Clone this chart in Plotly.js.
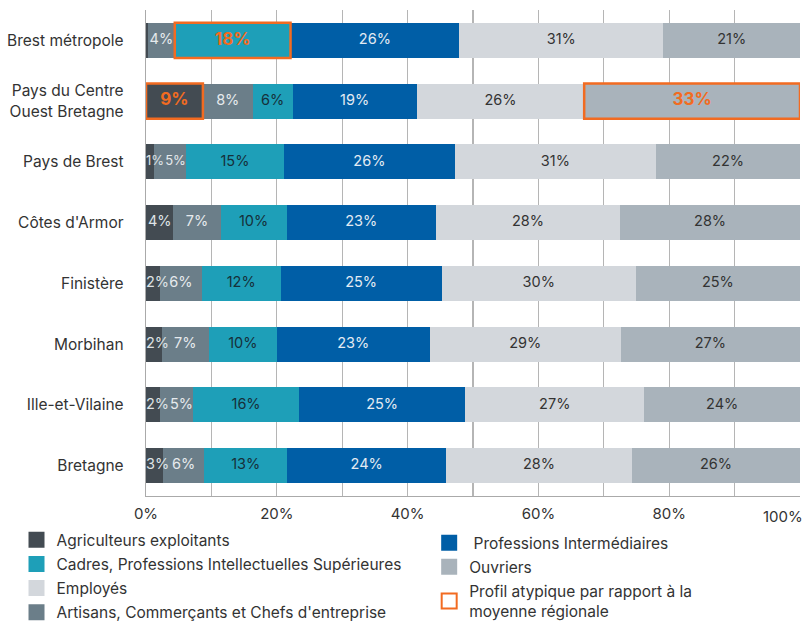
<!DOCTYPE html>
<html><head><meta charset="utf-8">
<script src="https://cdn.plot.ly/plotly-3.0.1.min.js"></script>
<style>html,body{margin:0;padding:0;background:#fff}</style>
</head><body><div id="chart" style="width:806px;height:621px"></div>
<script>
const categories = ["Brest métropole", "Pays du Centre<br>Ouest Bretagne", "Pays de Brest", "Côtes d'Armor", "Finistère", "Morbihan", "Ille-et-Vilaine", "Bretagne"];
const seriesNames = ["Agriculteurs exploitants", "Artisans, Commerçants et Chefs d'entreprise", "Cadres, Professions Intellectuelles Supérieures", " Professions Intermédiaires", "Employés", "Ouvriers"];
const agriculteurs = [0.3, 8.7, 1.2, 4.2, 2.2, 2.4, 2.1, 2.6];
const artisans     = [4.1, 7.6, 4.9, 7.2, 6.3, 7.2, 5.1, 6.3];
const cadres       = [17.7, 6.1, 15.0, 10.1, 12.1, 10.4, 16.2, 12.7];
const profInter    = [25.8, 19.0, 26.1, 22.8, 24.6, 23.4, 25.4, 24.3];
const employes     = [31.2, 25.6, 30.8, 28.2, 29.7, 29.2, 27.4, 28.4];
const ouvriers     = [20.9, 33.0, 22.0, 27.5, 25.1, 27.4, 23.8, 25.7];
// atypical profiles: [category index, series index]
const highlights = [[0, 2], [1, 0], [1, 5]];
const highlightLabel = "Profil atypique par rapport à la<br>moyenne régionale";
const xTickValues = [0, 20, 40, 60, 80];
const xTickLabels = ["0%", "20%", "40%", "60%", "80%"];
const lastTickLabel = "100%";

const seriesValues = [agriculteurs, artisans, cadres, profInter, employes, ouvriers];
const colors = ["#434b52", "#6b7e89", "#1e9fb8", "#005ea6", "#d3d7dc", "#a9b3bb"];
const textColors = ["#dfe3e6", "#e6eaed", "#16303a", "#e3ebf3", "#333333", "#333333"];
const orange = "#f26b21";
const FONT = "Inter, sans-serif";
const FS_AXIS = 15.5;
const FS_BAR = 14.5;
const FS_TIGHT = 13;
const bargap = 0.42;
// legend placement: legend (left column) / legend2 (right column), with rank
const legendOf = ["legend", "legend", "legend", "legend2", "legend", "legend2"];
const rankOf = [1, 4, 2, 1, 3, 2];

const isHi = (c, s) => highlights.some(h => h[0] === c && h[1] === s);
const labelled = v => v >= 0.5;
const narrow = v => labelled(v) && v < 3;

// cumulative starts
const starts = seriesValues.map((vals, s) => vals.map((v, c) => {
  let acc = 0; for (let k = 0; k < s; k++) acc += seriesValues[k][c]; return acc;
}));

const traces = [];
seriesValues.forEach((vals, s) => {
  traces.push({
    type: "bar", orientation: "h", name: seriesNames[s],
    x: vals, y: categories,
    marker: {color: colors[s], line: {width: 0}},
    hoverinfo: "skip", showlegend: false
  });
});
// labels drawn above all bars; narrow segments start their label at the segment start,
// and a small segment that follows a narrow one ends its label at its own end
const tight = (c, s) => {
  const v = seriesValues[s][c];
  if (narrow(v) && s + 1 < seriesValues.length) return v + seriesValues[s + 1][c] < 6.5;
  if (s > 0 && narrow(seriesValues[s - 1][c])) return v + seriesValues[s - 1][c] < 6.5;
  return false;
};
seriesValues.forEach((vals, s) => {
  const mode = vals.map((v, c) => {
    if (narrow(v)) return "start";
    if (s > 0 && narrow(seriesValues[s - 1][c]) && v < 6) return "end";
    return "center";
  });
  traces.push({
    type: "scatter", mode: "text", showlegend: false, hoverinfo: "skip",
    x: vals.map((v, c) => mode[c] === "start" ? starts[s][c] : mode[c] === "end" ? starts[s][c] + v : starts[s][c] + v / 2),
    y: categories,
    text: vals.map((v, c) => !labelled(v) ? "" : (isHi(c, s) ? "<b>" + Math.round(v) + "%</b>" : Math.round(v) + "%")),
    textposition: mode.map(m => m === "start" ? "middle right" : m === "end" ? "middle left" : "middle center"),
    textfont: {
      family: FONT,
      color: vals.map((v, c) => isHi(c, s) ? orange : textColors[s]),
      size: vals.map((v, c) => isHi(c, s) ? 17 : tight(c, s) ? FS_TIGHT : FS_BAR)
    },
    cliponaxis: false
  });
});
// legend entries
seriesValues.forEach((vals, s) => {
  traces.push({
    type: "scatter", mode: "markers", name: seriesNames[s], x: [null], y: [null],
    marker: {symbol: "square", size: 16, color: colors[s]},
    legend: legendOf[s], legendrank: rankOf[s], legendgroup: "g" + s, hoverinfo: "skip"
  });
});
traces.push({
  type: "scatter", mode: "markers", name: highlightLabel, x: [null], y: [null],
  marker: {symbol: "square-open", size: 15, color: orange, line: {width: 2}},
  legend: "legend2", legendrank: 3, legendgroup: "ghi", hoverinfo: "skip"
});

const shapes = highlights.map(([c, s]) => ({
  type: "rect", xref: "x", yref: "y", layer: "above",
  x0: starts[s][c], x1: starts[s][c] + seriesValues[s][c],
  y0: c - (1 - bargap) / 2, y1: c + (1 - bargap) / 2,
  line: {color: orange, width: 2.5}, fillcolor: "rgba(0,0,0,0)"
}));

const legendFont = {family: FONT, size: FS_AXIS, color: "#333333"};

const layout = {
  width: 806, height: 621,
  margin: {l: 146, r: 6, t: 10, b: 125, autoexpand: false},
  paper_bgcolor: "#ffffff", plot_bgcolor: "#ffffff",
  barmode: "stack", bargap: bargap,
  font: {family: FONT, size: FS_AXIS, color: "#333333"},
  xaxis: {
    range: [0, 100],
    tickvals: xTickValues, ticktext: xTickLabels,
    showgrid: true, gridcolor: "#b5b5b5", gridwidth: 1.3,
    minor: {tickvals: [10, 30, 50, 70, 90, 100], showgrid: true, gridcolor: "#b5b5b5", gridwidth: 1.3},
    showline: true, linecolor: "#aaaaaa", linewidth: 1.3,
    zeroline: false, ticks: "", ticklabelstandoff: 4,
    tickfont: {family: FONT, size: FS_BAR + 0.5, color: "#333333"},
    fixedrange: true
  },
  yaxis: {
    autorange: "reversed",
    showline: true, linecolor: "#aaaaaa", linewidth: 1.3,
    showgrid: false, ticks: "", ticklabelstandoff: 18,
    tickfont: {family: FONT, size: FS_AXIS, color: "#333333"},
    fixedrange: true
  },
  shapes: shapes,
  annotations: [{
    text: lastTickLabel, x: 100, xref: "x", y: 0, yref: "paper",
    xanchor: "right", yanchor: "top", yshift: -9, xshift: 5, showarrow: false,
    font: {family: FONT, size: FS_BAR + 0.5, color: "#333333"}
  }],
  showlegend: true,
  legend: {x: -0.198, xanchor: "left", y: -0.056, yanchor: "top", orientation: "v",
    traceorder: "grouped", tracegroupgap: 1, font: legendFont, bgcolor: "rgba(0,0,0,0)"},
  legend2: {x: 0.433, xanchor: "left", y: -0.062, yanchor: "top", orientation: "v",
    traceorder: "grouped", tracegroupgap: 1, font: legendFont, bgcolor: "rgba(0,0,0,0)"}
};

Plotly.newPlot("chart", traces, layout, {displayModeBar: false, staticPlot: true});
</script></body></html>
